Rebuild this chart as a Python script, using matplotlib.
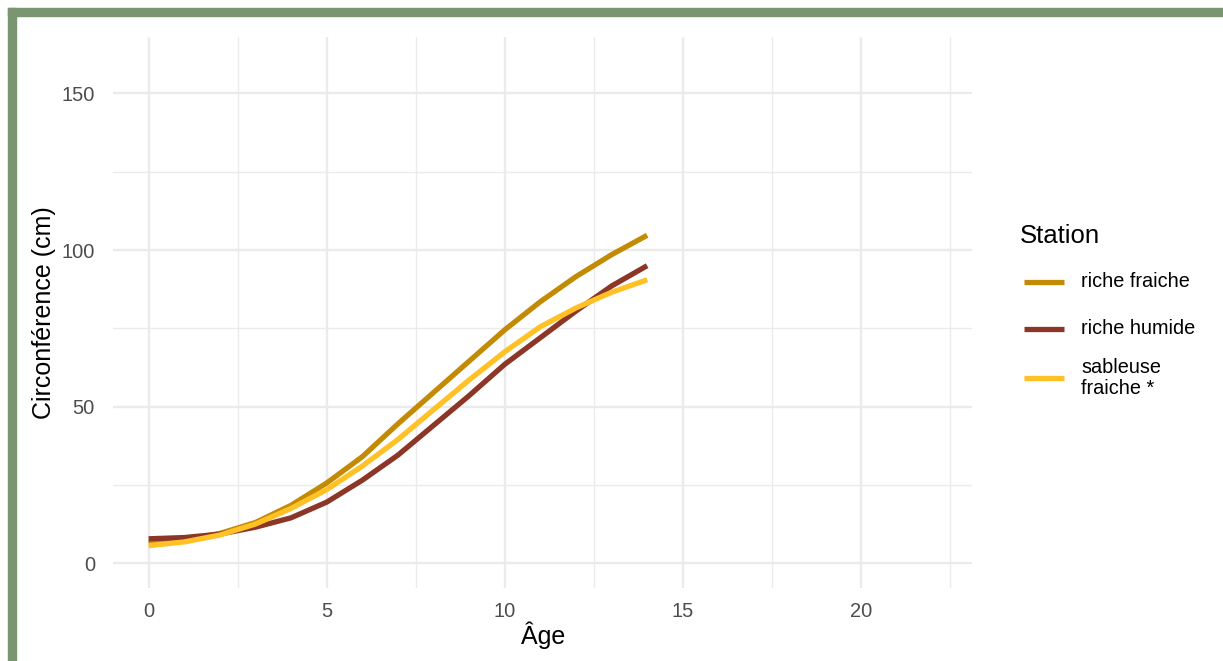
import matplotlib.pyplot as plt
import matplotlib.patches as patches
from matplotlib.lines import Line2D
from matplotlib.ticker import MultipleLocator

plt.rcParams['font.family'] = ['Liberation Sans', 'DejaVu Sans']

# data
ages = [0, 1, 2, 3, 4, 5, 6, 7, 8, 9, 10, 11, 12, 13, 14]
riche_fraiche = [6.5, 7.5, 9.5, 13, 18.5, 25.6, 34, 44.5, 54.5, 64.5, 74.5, 83.5, 91.5, 98.5, 104.7]
riche_humide = [7.8, 8.2, 9.3, 11.5, 14.5, 19.5, 26.5, 34.5, 44, 53.5, 63.5, 72, 80.5, 88.5, 95]
sableuse_fraiche = [5.6, 6.8, 9, 12.5, 17.5, 23.5, 31, 39.5, 49, 58.5, 67.5, 75.5, 81.5, 86.5, 90.5]

stations = ['riche fraiche', 'riche humide', 'sableuse\nfraiche *']
colors = ['#C38B04', '#8B3626', '#FFC125']
series = [riche_fraiche, riche_humide, sableuse_fraiche]

W, H = 1223, 661
fig = plt.figure(figsize=(W / 100, H / 100), dpi=100)
ax = fig.add_axes([0.0924, 0.110, 0.7026, 0.834])

for vals, lab, col in zip(series, stations, colors):
    ax.plot(ages, vals, color=col, lw=3.8, label=lab,
            solid_capstyle='butt', solid_joinstyle='round')

ax.set_xlim(-1.0, 23.13)
ax.set_ylim(-8, 168)
ax.xaxis.set_minor_locator(MultipleLocator(2.5))
ax.yaxis.set_minor_locator(MultipleLocator(25))
ax.set_xticks([0, 5, 10, 15, 20])
ax.set_yticks([0, 50, 100, 150])
ax.grid(which='major', color='#ebebeb', lw=1.7)
ax.grid(which='minor', color='#ebebeb', lw=1.0)
ax.set_axisbelow(True)
for s in ax.spines.values():
    s.set_visible(False)
ax.tick_params(which='both', length=0, labelsize=14.5, labelcolor='#4d4d4d')
ax.tick_params(axis='y', pad=13)
ax.tick_params(axis='x', pad=10)

ax.set_xlabel('Âge', fontsize=18, labelpad=0)
ax.set_ylabel('Circonférence (cm)', fontsize=18, labelpad=4)

# legend drawn by hand (pixel positions from the top)
fig.text(1020 / W, 1 - 236 / H, 'Station', fontsize=18.5, va='center', ha='left')
key_y = [282, 329, 378]
for y, lab, col in zip(key_y, stations, colors):
    fig.add_artist(Line2D([1024 / W, 1064 / W], [1 - y / H, 1 - y / H],
                          color=col, lw=3.8, solid_capstyle='butt'))
    fig.text(1081 / W, 1 - y / H, lab, fontsize=14.3, va='center', ha='left',
             linespacing=1.15)

# green frame on top and left
fig.patches.append(patches.Rectangle((8 / W, 0), 8 / W, 1 - 8 / H,
                                     transform=fig.transFigure, color='#7a9670', zorder=10))
fig.patches.append(patches.Rectangle((8 / W, 1 - 16 / H), 1, 8 / H,
                                     transform=fig.transFigure, color='#7a9670', zorder=10))

fig.savefig('out.png', dpi=100)
